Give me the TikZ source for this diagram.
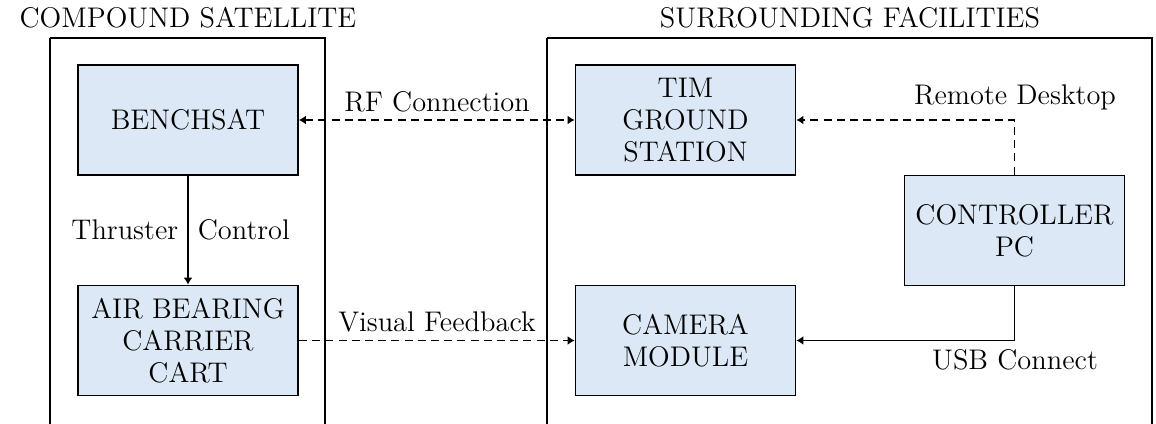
\documentclass[tikz,border=0pt]{standalone}
\usetikzlibrary{arrows.meta}
\definecolor{boxfill}{RGB}{220,232,245}
\begin{document}
\begin{tikzpicture}[x=0.5pt,y=-0.5pt,
  font=\fontsize{14.2}{16}\selectfont,
  block/.style={draw, line width=0.9pt, fill=boxfill, rectangle, align=center, inner sep=0pt,
    minimum width=110pt, minimum height=55pt},
  frame/.style={draw, line width=0.9pt},
  lbl/.style={inner sep=2pt},
  conn/.style={line width=0.8pt},
  dconn/.style={line width=0.8pt, dash pattern=on 4pt off 2.6pt},
  tip/.style={-{Latex[length=3.5pt,width=4.5pt]}},
  tips/.style={{Latex[length=3.5pt,width=4.5pt]}-{Latex[length=3.5pt,width=4.5pt]}}
]
\useasboundingbox (0,0) rectangle (1156,423);
\clip (0,0) rectangle (1156,423);
% frames
\draw[frame] (50,38) -- (50,440) (50,38) -- (325,38) -- (325,440);
\draw[frame] (547,38) -- (547,440) (547,38) -- (1152,38) -- (1152,440);
\node[lbl] (t1) at (188,18) {COMPOUND SATELLITE};
\node[lbl] (t2) at (850,18) {SURROUNDING FACILITIES};
% blocks
\node[block] (bench) at (188,120) {BENCHSAT};
\node[block] (cart) at (188,340.5) {AIR BEARING\\CARRIER\\CART};
\node[block] (tim) at (685.5,120) {TIM\\GROUND\\STATION};
\node[block] (cam) at (685.5,340.5) {CAMERA\\MODULE};
\node[block] (ctrl) at (1014.5,230.5) {CONTROLLER\\PC};
% connectors
\draw[conn,tip] (bench.south) -- (cart.north)
  node[pos=0.5,left,inner sep=4.5pt] {Thruster} node[pos=0.5,right,inner sep=4.5pt] {Control};
\draw[dconn,tips] (bench.east) -- (tim.west);
\node[lbl] (rf) at (437,102) {RF Connection};
\draw[dconn,tip] (cart.east) -- (cam.west);
\node[lbl] (vf) at (437,322) {Visual Feedback};
\draw[dconn,tip] (ctrl.north) |- (tim.east);
\node[lbl] (rd) at (1015,97) {Remote Desktop};
\draw[conn,tip] (ctrl.south) |- (cam.east);
\node[lbl] (usb) at (1015,360) {USB Connect};
\end{tikzpicture}
\end{document}
